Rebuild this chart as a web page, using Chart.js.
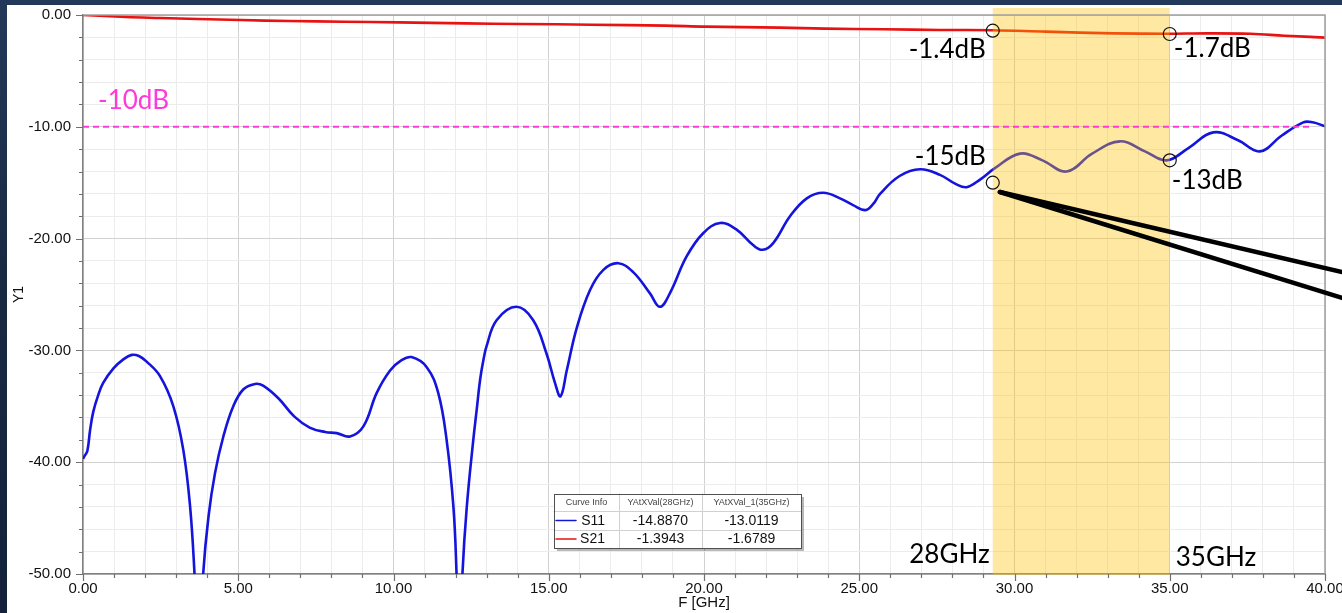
<!DOCTYPE html>
<html><head><meta charset="utf-8">
<script src="https://cdn.jsdelivr.net/npm/chart.js@4.4.1/dist/chart.umd.min.js"></script>
<style>
html,body{margin:0;padding:0;width:1342px;height:613px;overflow:hidden;
  background:linear-gradient(180deg,#22395a 0%,#182a42 45%,#13223a 100%);}
#panel{position:absolute;left:7px;top:5px;width:1335px;height:608px;background:#fff;}
canvas{display:block;}
</style></head><body>
<div id="panel"><canvas id="c" width="1335" height="608"></canvas></div>
<script>
// S11 return loss, frequency in GHz and level in dB
const s11Freq = [0, 0.06, 0.14, 0.23, 0.33, 0.49, 0.65, 0.98, 1.3, 1.57, 1.8, 2.05, 2.48, 2.91, 3.23, 3.45, 3.59, 3.73, 3.87,
  4.04, 4.25, 4.52, 4.84, 5.16, 5.54, 5.8, 6.3, 6.8, 7.3, 7.8, 8.17, 8.6, 9.03, 9.46, 9.89, 10.25, 10.58, 11.07, 11.44, 11.71,
  11.93, 12.03, 12.12, 12.22, 12.36, 12.57, 12.68, 12.79, 12.9, 13.0, 13.32, 13.96, 14.5, 14.93, 15.2, 15.38, 15.58, 15.9, 16.33, 16.76,
  17.24, 17.72, 18.26, 18.58, 18.9, 19.44, 19.98, 20.52, 21.05, 21.59, 21.89, 22.23, 22.77, 23.31, 23.84, 24.38, 24.8, 25.2,
  25.45, 25.67, 26.3, 26.96, 27.6, 28.1, 28.46, 28.9, 29.37, 30.18, 30.9, 31.68, 32.5, 33.4, 34.2, 34.9, 35.6, 36.4, 37.2, 37.9,
  38.6, 39.3, 39.6, 40];
const s11Db = [-39.7, -39.4, -39.0, -37.1, -35.5, -34.0, -32.9, -31.6, -30.8, -30.4, -30.5, -31.0, -32.3, -35.0, -38.9, -44.0, -49.9, -58, -50,
  -44.9, -41.0, -37.7, -35.0, -33.5, -33.0, -33.15, -34.3, -35.9, -36.9, -37.3, -37.4, -37.7, -36.8, -33.8, -31.8, -30.9, -30.6, -31.5, -33.8, -38.0,
  -44.0, -49.9, -58, -50, -44.0, -38.0, -35.3, -32.6, -30.8, -29.6, -27.3, -26.1, -27.3, -30.3, -32.9, -34.1, -31.8, -28.0, -24.6, -22.8,
  -22.2, -23.0, -24.9, -26.1, -24.9, -21.6, -19.5, -18.6, -19.2, -20.6, -21.0, -20.4, -18.0, -16.4, -15.9, -16.4, -17.0, -17.45,
  -16.9, -16.0, -14.4, -13.8, -14.3, -15.1, -15.4, -14.7, -13.7, -12.4, -13.0, -14.0, -12.4, -11.3, -12.2, -13.0, -11.9, -10.5, -11.2, -12.2,
  -10.8, -9.6, -9.6, -9.95];

// S21 insertion loss
const s21Freq = [0, 1.38, 2.48, 3.7, 5.08, 6.65, 8.4, 10.16, 12.3, 14.1, 16.4, 18.75, 20.05, 22.45, 23.9, 25.8, 27.6, 29.3,
  31.0, 33.2, 34.9, 36.2, 37.6, 38.7, 40];
const s21Db = [0, -0.18, -0.27, -0.36, -0.45, -0.54, -0.6, -0.66, -0.75, -0.8, -0.87, -0.95, -1.04, -1.13, -1.22, -1.28, -1.34, -1.36,
  -1.49, -1.64, -1.68, -1.64, -1.68, -1.85, -2.02];

// -10 dB reference level
const refFreq = [0, 39.6];
const refDb = [-10, -10];
const refLabel = '-10dB';

// marker points and their labels
const markerFreq = [29.3, 35, 29.3, 35];
const markerDb = [-1.4, -1.7, -15, -13];
const markerLabels = ['-1.4dB', '-1.7dB', '-15dB', '-13dB'];

// highlighted band
const bandFreq = [29.3, 35];
const bandLabels = ['28GHz', '35GHz'];

// callout from the S11 marker
const calloutFreq = [29.53, 40.55, 40.55];
const calloutDb = [-15.83, -22.99, -25.31];

// curve info table
const tableHeader = ['Curve Info', 'YAtXVal(28GHz)', 'YAtXVal_1(35GHz)'];
const seriesNames = ['S11', 'S21'];
const valueAt28 = [-14.8870, -1.3943];
const valueAt35 = [-13.0119, -1.6789];

// axis ticks
const xMajorTicks = [0, 5, 10, 15, 20, 25, 30, 35, 40];
const yMajorTicks = [0, -10, -20, -30, -40, -50];

const S11_COLOR = '#1414dc';
const S21_COLOR = '#e81212';
const REF_COLOR = '#ff3ad8';
const toXY = (xs, ys) => xs.map((x, i) => ({x, y: ys[i]}));

const isMajorX = v => xMajorTicks.includes(Math.round(v * 1000) / 1000);
const isMajorY = v => yMajorTicks.includes(Math.round(v * 1000) / 1000);

// extra drawing: band, tick marks, frame, annotations, callout, table
const overlay = {
  id: 'overlay',
  afterDatasetDraw(chart, args) {
    if (args.meta.label !== 'S11') return;
    const {ctx, chartArea: a, scales: {x}} = chart;
    const x0 = x.getPixelForValue(bandFreq[0]), x1 = x.getPixelForValue(bandFreq[1]);
    ctx.save();
    ctx.fillStyle = 'rgba(255,193,0,0.37)';
    ctx.fillRect(x0, a.top - 7, x1 - x0, a.bottom - a.top + 8);
    ctx.restore();
  },
  afterDraw(chart) {
    const {ctx, chartArea: a, scales: {x, y}} = chart;
    ctx.save();
    // frame top/right
    ctx.strokeStyle = '#a0a0a0';
    ctx.lineWidth = 1.5;
    ctx.beginPath();
    ctx.moveTo(a.left, a.top); ctx.lineTo(a.right, a.top); ctx.lineTo(a.right, a.bottom);
    ctx.stroke();
    // tick marks
    ctx.strokeStyle = '#707070';
    ctx.lineWidth = 1.2;
    ctx.beginPath();
    x.ticks.forEach(t => {
      const px = Math.round(x.getPixelForValue(t.value)) + 0.5;
      ctx.moveTo(px, a.bottom); ctx.lineTo(px, a.bottom + (isMajorX(t.value) ? 7 : 4));
    });
    y.ticks.forEach(t => {
      const py = Math.round(y.getPixelForValue(t.value)) + 0.5;
      ctx.moveTo(a.left, py); ctx.lineTo(a.left - (isMajorY(t.value) ? 7 : 4), py);
    });
    ctx.stroke();

    // callout lines
    ctx.strokeStyle = '#000';
    ctx.lineWidth = 4.5;
    ctx.lineCap = 'round';
    const cx = x.getPixelForValue(calloutFreq[0]), cy = y.getPixelForValue(calloutDb[0]);
    for (let i = 1; i < calloutFreq.length; i++) {
      ctx.beginPath();
      ctx.moveTo(cx, cy);
      ctx.lineTo(x.getPixelForValue(calloutFreq[i]), y.getPixelForValue(calloutDb[i]));
      ctx.stroke();
    }

    // text annotations
    ctx.font = '26px Lato';
    ctx.textBaseline = 'middle';
    ctx.fillStyle = '#000';
    const offs = [[-7, 19, 'right'], [4, 15, 'left'], [-7, -26, 'right'], [2, 20, 'left']];
    markerLabels.forEach((t, i) => {
      const px = x.getPixelForValue(markerFreq[i]), py = y.getPixelForValue(markerDb[i]);
      ctx.textAlign = offs[i][2];
      ctx.fillText(t, px + offs[i][0], py + offs[i][1]);
    });
    ctx.textAlign = 'right';
    ctx.fillText(bandLabels[0], x.getPixelForValue(bandFreq[0]) - 3, a.bottom - 19);
    ctx.textAlign = 'left';
    ctx.fillText(bandLabels[1], x.getPixelForValue(bandFreq[1]) + 6, a.bottom - 16);
    ctx.fillStyle = REF_COLOR;
    ctx.fillText(refLabel, x.getPixelForValue(refFreq[0]) + 15, y.getPixelForValue(refDb[0]) - 26);

    // curve info table
    const tx = a.left + 471, ty = a.bottom - 80;
    const colW = [65, 83, 99], rowH = [17, 19, 18];
    const W = colW.reduce((s, v) => s + v, 0), H = rowH.reduce((s, v) => s + v, 0);
    ctx.fillStyle = 'rgba(0,0,0,0.28)';
    ctx.fillRect(tx + 3, ty + 3, W, H);
    ctx.fillStyle = '#fff';
    ctx.fillRect(tx, ty, W, H);
    ctx.strokeStyle = '#d0d0d0';
    ctx.lineWidth = 1;
    ctx.beginPath();
    let cxp = tx;
    for (let c = 0; c < colW.length - 1; c++) { cxp += colW[c]; ctx.moveTo(cxp + 0.5, ty); ctx.lineTo(cxp + 0.5, ty + H); }
    let ryp = ty;
    for (let r = 0; r < rowH.length - 1; r++) { ryp += rowH[r]; ctx.moveTo(tx, ryp + 0.5); ctx.lineTo(tx + W, ryp + 0.5); }
    ctx.stroke();
    ctx.strokeStyle = '#505050';
    ctx.strokeRect(tx + 0.5, ty + 0.5, W, H);
    // header
    ctx.fillStyle = '#444';
    ctx.font = '9px "Liberation Sans"';
    ctx.textAlign = 'center';
    let colX = tx;
    tableHeader.forEach((h, c) => { ctx.fillText(h, colX + colW[c] / 2, ty + rowH[0] / 2 + 0.5); colX += colW[c]; });
    // rows
    const colors = [S11_COLOR, S21_COLOR];
    let rowY = ty + rowH[0];
    seriesNames.forEach((n, r) => {
      const my = rowY + rowH[r + 1] / 2;
      ctx.strokeStyle = colors[r];
      ctx.lineWidth = 1.5;
      ctx.beginPath(); ctx.moveTo(tx + 2, my); ctx.lineTo(tx + 22, my); ctx.stroke();
      ctx.fillStyle = '#111';
      ctx.font = '14px "Liberation Sans"';
      ctx.textAlign = 'right';
      ctx.fillText(n, tx + 51, my + 0.5);
      ctx.textAlign = 'center';
      ctx.fillText(valueAt28[r].toFixed(4), tx + colW[0] + colW[1] / 2, my + 0.5);
      ctx.fillText(valueAt35[r].toFixed(4), tx + colW[0] + colW[1] + colW[2] / 2, my + 0.5);
      rowY += rowH[r + 1];
    });
    ctx.restore();
  }
};

const gridColor = major => major ? '#d2d2d2' : '#ececec';

new Chart(document.getElementById('c'), {
  type: 'line',
  data: {
    datasets: [
      {label: 'markers', data: toXY(markerFreq, markerDb), showLine: false, order: 0,
       pointStyle: 'circle', pointRadius: 6.5, pointBorderWidth: 1.2, pointBorderColor: '#111',
       pointBackgroundColor: 'rgba(0,0,0,0)', pointHoverRadius: 6.5},
      {label: refLabel, data: toXY(refFreq, refDb), order: 0, borderColor: REF_COLOR, borderWidth: 2,
       borderDash: [6, 4], pointRadius: 0, tension: 0},
      {label: 'S11', data: toXY(s11Freq, s11Db), order: 1, borderColor: S11_COLOR, borderWidth: 2.6,
       pointRadius: 0, tension: 0.4},
      {label: 'S21', data: toXY(s21Freq, s21Db), order: 2, borderColor: S21_COLOR, borderWidth: 2.6,
       pointRadius: 0, tension: 0.4}
    ]
  },
  options: {
    responsive: false,
    animation: false,
    events: [],
    layout: {padding: {top: 10, right: 17, left: 0, bottom: 0}},
    plugins: {legend: {display: false}, tooltip: {enabled: false}},
    scales: {
      x: {
        type: 'linear', min: 0, max: 40,
        ticks: {stepSize: 1, autoSkip: false, maxRotation: 0, padding: 6, color: '#111',
          font: {family: 'Liberation Sans', size: 15},
          callback: v => isMajorX(v) ? v.toFixed(2) : ''},
        grid: {drawTicks: false, color: c => gridColor(c.tick && isMajorX(c.tick.value)), lineWidth: 1},
        border: {display: true, color: '#808080', width: 1.5},
        title: {display: true, text: 'F [GHz]', color: '#111', font: {family: 'Liberation Sans', size: 15},
          padding: {top: 0, bottom: 1}},
        afterFit: s => { s.height = 39; s.paddingLeft = 0; s.paddingRight = 0; }
      },
      y: {
        type: 'linear', min: -50, max: 0,
        ticks: {stepSize: 2, autoSkip: false, padding: 12, color: '#111',
          font: {family: 'Liberation Sans', size: 15},
          callback: v => isMajorY(v) ? (v === 0 ? '0.00' : v.toFixed(2)) : ''},
        grid: {drawTicks: false, color: c => gridColor(c.tick && isMajorY(c.tick.value)), lineWidth: 1},
        border: {display: true, color: '#808080', width: 1.5},
        title: {display: true, text: 'Y1', color: '#111', font: {family: 'Liberation Sans', size: 14},
          padding: {top: 4, bottom: 0}},
        afterFit: s => { s.width = 76; s.paddingTop = 0; s.paddingBottom = 0; }
      }
    }
  },
  plugins: [overlay]
});
</script>
</body></html>
